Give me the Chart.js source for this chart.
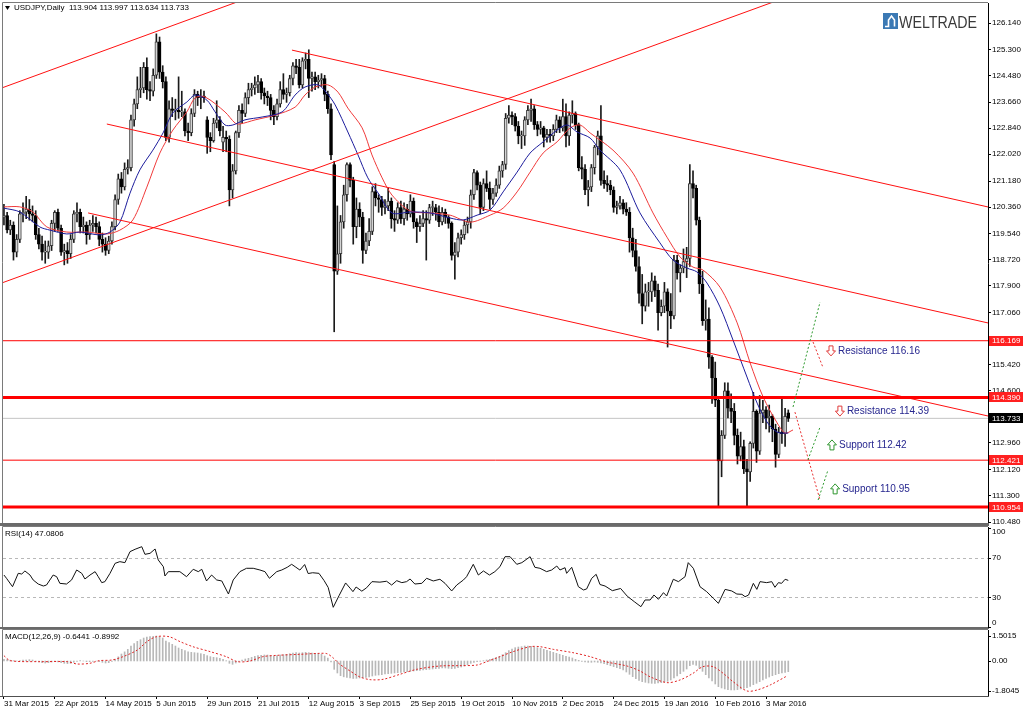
<!DOCTYPE html>
<html>
<head>
<meta charset="utf-8">
<title>USDJPY, Daily</title>
<script src="https://cdn.jsdelivr.net/npm/chart.js@4.4.1/dist/chart.umd.min.js"></script>
<style>
    html, body { margin: 0; padding: 0; background: #fff; }
    #wrap { position: relative; width: 1023px; height: 713px; overflow: hidden; }
    canvas { position: absolute; left: 0; }
    #c-main { top: 0; }
    #c-rsi { top: 526px; }
    #c-macd { top: 629px; }
</style>
</head>
<body>
<div id="wrap">
    <canvas id="c-main" width="1023" height="527"></canvas>
    <canvas id="c-rsi" width="1023" height="103"></canvas>
    <canvas id="c-macd" width="1023" height="84"></canvas>
</div>
<script>
const FONT = "'Liberation Sans', Arial, Helvetica, sans-serif";

// x axis: bar index, one daily bar per step
const dateLabels = ['31 Mar 2015', '22 Apr 2015', '14 May 2015', '5 Jun 2015', '29 Jun 2015', '21 Jul 2015',
    '12 Aug 2015', '3 Sep 2015', '25 Sep 2015', '19 Oct 2015', '10 Nov 2015', '2 Dec 2015',
    '24 Dec 2015', '19 Jan 2016', '10 Feb 2016', '3 Mar 2016'];
const dateIdx = [0, 16, 32, 48, 64, 80, 96, 112, 128, 144, 160, 176, 192, 208, 224, 240];

const priceTicks = [126.140, 125.300, 124.480, 123.660, 122.840, 122.020, 121.180, 120.360, 119.540, 118.720,
    117.900, 117.060, 116.240, 115.420, 114.600, 113.780, 112.960, 112.120, 111.300, 110.480];

// daily OHLC
const opens = [
    120.05,120.10,119.65,119.80,118.95,119.35,120.15,120.20,120.30,120.15,
    120.10,119.50,119.20,118.95,118.95,119.15,119.85,120.20,119.70,118.95,
    119.00,118.90,119.35,120.15,120.20,119.75,119.80,119.50,119.80,119.85,
    119.75,119.35,119.20,119.00,119.30,119.75,120.60,121.25,121.00,121.55,
    121.60,123.10,123.60,124.05,124.10,124.75,124.05,124.00,124.50,125.55,
    124.60,124.30,122.55,123.45,123.40,123.40,123.35,123.35,122.75,122.70,
    123.30,123.90,123.80,123.85,123.10,122.55,122.45,123.00,123.10,122.40,
    122.55,122.50,120.90,121.50,122.70,123.40,123.30,123.80,124.05,124.10,
    124.20,124.30,123.95,123.85,123.80,123.40,123.20,123.60,124.05,123.90,
    123.95,124.40,124.80,124.75,124.20,124.95,125.00,124.40,124.45,124.30,
    124.35,124.40,123.90,123.45,121.70,118.35,118.90,119.90,120.75,121.70,
    121.20,119.75,120.30,120.05,119.00,119.30,119.60,120.85,120.65,120.60,
    120.35,120.40,120.55,120.00,119.95,120.35,120.00,120.30,120.15,120.55,
    119.90,119.75,119.85,120.00,119.95,120.35,120.35,120.20,119.90,120.20,
    120.05,119.85,118.85,118.95,119.40,119.50,119.80,119.90,120.75,121.45,
    121.05,120.35,121.10,120.95,120.60,120.80,121.05,121.50,121.70,123.15,
    123.25,123.20,122.90,122.60,122.60,123.10,123.40,123.45,122.95,122.80,
    122.85,122.55,122.65,122.60,122.80,123.10,122.85,123.20,122.60,123.25,
    123.30,122.95,121.60,121.55,120.90,121.00,121.60,122.25,122.60,121.20,
    121.10,121.05,120.90,120.35,120.40,120.50,120.30,120.20,119.40,119.00,
    118.50,117.65,117.25,117.70,117.70,118.05,117.75,117.05,117.25,117.70,
    117.10,116.95,118.70,118.30,118.45,118.65,118.75,121.10,120.95,119.95,
    117.95,116.80,116.85,115.65,115.00,114.30,112.40,113.20,114.60,114.05,
    113.95,113.20,112.55,112.85,112.15,112.05,112.95,113.95,112.70,113.90,
    114.00,113.75,113.80,113.40,112.60,113.30,113.25,113.904
];
const highs = [
    120.45,120.20,119.95,119.90,119.50,120.25,120.50,120.70,120.60,120.40,
    120.25,119.70,119.45,119.30,119.30,119.95,120.25,120.30,119.80,119.20,
    119.25,119.50,120.25,120.50,120.30,120.05,119.90,119.95,120.10,120.05,
    119.90,119.55,119.40,119.45,119.90,120.75,121.40,121.45,121.75,121.85,
    123.25,123.75,124.45,124.75,124.90,125.05,124.30,124.70,125.80,125.70,
    124.80,124.45,123.70,123.80,123.75,124.45,124.00,123.45,123.00,123.45,
    124.05,124.00,124.05,124.00,123.20,122.70,123.15,123.70,123.20,122.90,
    122.75,122.60,121.70,122.75,123.55,123.60,123.95,124.25,124.25,124.45,
    124.50,124.40,124.10,124.00,123.90,123.55,123.75,124.30,124.55,124.10,
    124.50,124.90,125.00,125.00,125.05,125.20,125.30,124.60,124.60,124.50,
    124.55,124.50,124.00,123.60,121.80,120.40,120.10,121.05,121.75,121.75,
    121.30,120.65,120.50,120.20,119.55,120.00,121.00,121.10,120.75,120.70,
    120.60,120.95,120.65,120.25,120.50,120.55,120.50,120.45,120.75,120.65,
    120.00,120.10,120.25,120.25,120.45,120.55,120.45,120.40,120.35,120.30,
    120.10,119.90,119.25,119.55,119.65,119.95,120.05,120.90,121.55,121.50,
    121.15,121.25,121.50,121.15,120.95,121.25,121.65,121.80,123.30,123.55,
    123.35,123.30,123.05,122.75,123.20,123.55,123.75,123.55,123.05,123.05,
    122.90,122.80,122.80,122.95,123.25,123.20,123.75,123.60,123.35,123.70,
    123.35,123.00,121.95,121.70,121.20,121.70,122.30,122.75,123.55,121.50,
    121.35,121.20,121.00,120.55,120.70,120.60,120.50,120.35,119.70,119.35,
    118.80,118.25,117.95,118.00,118.30,118.20,117.95,117.45,118.00,117.80,
    117.65,118.85,118.85,118.55,119.05,119.10,121.70,121.50,121.05,120.05,
    118.35,117.45,117.20,115.70,115.50,114.35,113.35,114.85,114.85,114.50,
    114.20,113.40,113.30,113.05,112.45,113.00,114.55,114.00,114.45,114.30,
    114.10,114.15,113.85,113.55,113.45,114.40,114.05,113.997
];
const lows = [
    119.80,119.55,119.50,118.70,118.80,119.25,119.90,120.00,119.95,119.90,
    119.35,119.05,118.70,118.60,118.75,119.00,119.60,119.60,118.85,118.55,
    118.60,118.75,119.25,119.90,119.55,119.55,119.20,119.35,119.60,119.55,
    119.15,118.95,118.85,118.90,119.20,119.65,120.45,120.80,120.90,121.40,
    121.50,122.90,123.45,123.80,123.95,123.75,123.70,123.85,124.40,124.40,
    124.10,122.45,122.40,123.20,123.10,123.15,123.20,122.60,122.45,122.60,
    123.20,123.55,123.45,123.65,122.05,122.10,122.40,122.85,122.60,122.10,
    122.10,120.40,120.65,121.40,122.55,123.00,123.20,123.60,123.85,123.90,
    123.95,123.75,123.60,123.55,123.10,122.95,123.10,123.50,123.75,123.65,
    123.85,124.20,124.55,124.10,124.10,124.70,123.80,124.00,124.05,124.10,
    124.15,123.70,123.30,121.85,116.45,118.25,118.60,119.70,120.55,121.00,
    119.20,119.40,119.75,118.60,118.90,119.15,119.50,120.40,120.20,120.10,
    120.15,120.25,119.70,119.60,119.85,119.85,119.80,119.95,120.05,119.70,
    119.25,119.60,119.75,118.70,119.85,120.10,119.95,119.75,119.80,119.85,
    119.70,118.70,118.10,118.80,119.20,119.35,119.55,119.70,120.60,120.90,
    120.15,120.25,120.85,120.30,120.45,120.70,120.95,121.30,121.55,123.00,
    122.95,122.75,122.35,122.20,122.30,122.95,123.05,122.80,122.60,122.65,
    122.25,122.40,122.40,122.45,122.70,122.70,122.75,122.25,122.30,123.00,
    122.80,121.50,121.25,120.75,120.40,120.85,121.40,122.00,121.05,120.95,
    120.85,120.75,120.20,120.15,120.30,120.15,120.10,118.95,118.80,118.35,
    117.35,116.70,117.10,117.25,117.40,117.55,116.50,116.95,117.05,115.97,
    116.55,116.85,118.10,117.70,118.30,118.15,118.50,120.65,119.80,117.65,
    116.65,116.50,115.30,114.20,114.10,110.98,111.90,113.10,113.75,113.60,
    112.90,112.30,112.40,112.00,110.99,111.75,112.80,112.35,112.60,113.60,
    113.40,113.30,113.00,112.20,112.50,112.95,112.85,113.634
];
const closes = [
    120.10,119.65,119.80,118.95,119.35,120.15,120.20,120.30,120.15,120.10,
    119.50,119.20,118.95,118.95,119.15,119.85,120.20,119.70,118.95,119.00,
    118.90,119.35,120.15,120.20,119.75,119.80,119.50,119.80,119.85,119.75,
    119.35,119.20,119.00,119.30,119.75,120.60,121.25,121.00,121.55,121.60,
    123.10,123.60,124.05,124.10,124.75,124.05,124.00,124.50,125.55,124.60,
    124.30,122.55,123.45,123.40,123.40,123.35,123.35,122.75,122.70,123.30,
    123.90,123.80,123.85,123.80,122.55,122.45,123.00,123.10,122.75,122.55,
    122.50,120.90,121.50,122.70,123.40,123.30,123.80,124.05,124.10,124.20,
    124.30,123.95,123.85,123.80,123.40,123.20,123.60,124.05,123.90,123.95,
    124.40,124.80,124.75,124.20,124.95,125.00,124.40,124.45,124.30,124.35,
    124.40,123.90,123.45,122.00,118.35,118.90,119.90,120.75,121.70,121.20,
    119.75,120.30,120.05,119.00,119.30,119.60,120.85,120.65,120.60,120.35,
    120.40,120.55,120.00,119.95,120.35,120.00,120.30,120.15,120.55,119.90,
    119.75,119.85,120.00,119.95,120.35,120.35,120.20,119.90,120.20,120.05,
    119.85,118.85,118.95,119.40,119.50,119.80,119.90,120.75,121.45,121.05,
    120.35,121.10,120.95,120.60,120.80,121.05,121.50,121.70,123.15,123.25,
    123.20,122.90,122.60,122.60,123.10,123.40,123.45,122.95,122.80,122.85,
    122.55,122.65,122.60,122.80,123.10,122.85,123.20,122.60,123.25,123.30,
    122.95,121.60,121.55,120.90,121.00,121.60,122.25,122.60,121.20,121.10,
    121.05,120.90,120.35,120.40,120.50,120.30,120.20,119.40,119.00,118.50,
    117.65,117.25,117.70,117.70,118.05,117.75,117.05,117.25,117.70,117.10,
    116.95,118.70,118.30,118.45,118.65,118.75,121.10,120.95,119.95,117.95,
    116.80,116.85,115.65,115.00,114.30,112.40,113.20,114.60,114.05,113.95,
    113.20,112.55,112.85,112.15,112.05,112.95,113.95,112.70,113.90,114.00,
    113.75,113.80,113.40,112.60,113.30,113.25,113.80,113.733
];

// moving averages (bar index, price)
const maFastIdx = [0, 5, 11.3, 14.5, 19.8, 23.9, 30.2, 33.4, 36.5, 39.7, 42.8, 46.9, 50.1, 53.2, 57.6, 60.2, 63.9,
    66.5, 69.6, 72.1, 75.9, 81.3, 87.6, 91.7, 94.8, 98.9, 101.7, 104.3, 108.3, 111.5, 114.6, 117.8, 122.2, 127.9,
    134.2, 140.5, 144.6, 149, 153.1, 157.2, 161.6, 165.7, 169.8, 174.2, 177.3, 180.5, 184.6, 187.7, 194, 200.3,
    206.6, 210.7, 215.1, 218.2, 221.4, 225.5, 229.6, 234, 237.2, 240.3, 243.5, 247];
const maFast = [120.33, 120.21, 119.74, 119.64, 119.52, 119.58, 119.49, 119.58, 119.89, 120.80, 121.53, 122.15, 122.69,
    123.32, 123.66, 123.88, 123.72, 123.35, 122.94, 122.94, 123.10, 123.19, 123.35, 123.88, 124.13, 124.20, 123.94,
    123.57, 122.72, 122.00, 121.28, 120.81, 120.18, 120.21, 120.18, 120.02, 119.96, 120.11, 120.27, 120.84, 121.46,
    122.06, 122.41, 122.78, 122.94, 122.72, 122.53, 122.15, 121.53, 120.18, 119.24, 118.70, 118.45, 118.33, 117.98,
    117.23, 116.19, 115.03, 114.21, 113.62, 113.30, 113.27];
const maSlowIdx = [0, 5, 9.1, 13.5, 19.8, 26.1, 32.4, 36.5, 40.6, 45, 49.1, 53.2, 57.6, 60.2, 63.3, 69.6, 72.8, 74.3,
    79.1, 85.4, 91.7, 94.8, 98, 102, 105.2, 108.3, 112.8, 115.9, 119.1, 122.2, 127.9, 134.2, 140.5, 146.8, 153.1,
    157.2, 161.6, 165.7, 169.8, 174.2, 178.3, 181.4, 184.6, 191.8, 198.1, 204.4, 208.8, 212.9, 217, 220.1, 225.5,
    230.9, 235, 239.1, 243.5, 246, 248.5];
const maSlow = [120.37, 120.37, 120.21, 119.74, 119.58, 119.58, 119.52, 119.64, 119.96, 120.99, 122.06, 122.78, 123.35,
    123.79, 123.82, 123.35, 123.00, 122.97, 123.10, 123.25, 123.50, 123.88, 124.13, 124.20, 123.97, 123.47, 122.85,
    122.00, 121.28, 120.74, 120.24, 120.18, 120.11, 119.89, 120.11, 120.33, 120.84, 121.46, 122.06, 122.41, 122.85,
    122.94, 122.69, 122.15, 121.43, 120.18, 119.42, 118.80, 118.48, 118.39, 117.85, 116.73, 115.47, 114.40, 113.59,
    113.27, 113.37];

// drawn objects: channel lines [idx1, price1, idx2, price2], levels, projections
const trendLines = [
    [-1, 124.09, 80, 127.04],
    [-1, 117.97, 250, 127.08],
    [90.7, 125.29, 320, 120.14],
    [32.4, 122.97, 320, 116.50],
    [26.5, 120.18, 320, 113.58]
];
const levelThick = [114.390, 110.954];
const levelThin = [116.169, 112.421];
const lastPrice = 113.733;
const projUp = [[248.5, 114.09, 257, 117.38], [253.2, 112.43, 257, 113.46], [256.4, 111.17, 259.5, 112.11]];
const projDown = [[254.8, 116.13, 258, 115.31], [249.1, 113.93, 257, 111.17]];
const noteText = ['Resistance 116.16', 'Resistance 114.39', 'Support 112.42', 'Support 110.95'];
const noteIdx = [259.2, 262.0, 259.5, 260.5];
const notePrice = [115.85, 113.96, 112.90, 111.52];
const noteDir = ['down', 'down', 'up', 'up'];

// RSI(14)
const rsiIdx = [0, 0.8, 2.7, 4.5, 5.6, 6.6, 8.2, 9.2, 10.8, 12.4, 13.4, 15.5, 16.6, 17.6, 19.7, 21.3, 22.9, 24.5, 25.5,
    27.1, 28.7, 29.7, 30.8, 31.8, 33.4, 35, 36.5, 38.1, 39.7, 41.3, 43.4, 44.4, 46, 47.6, 48.6, 50.2, 50.7, 51.8,
    55.4, 57.5, 59.6, 61.2, 62.3, 63.8, 65.4, 67, 68.6, 70.7, 72.2, 74.3, 76.4, 78.5, 80.6, 82.2, 83.6, 85.9, 87.5,
    89.2, 90.6, 91.7, 93.2, 94.7, 95.8, 97.2, 99.2, 100.8, 102.1, 103.7, 105.5, 107.6, 109.2, 109.9, 110.9, 112.7,
    114.2, 115.9, 118.4, 120.5, 122.1, 123.7, 125.3, 126.8, 127.9, 129.4, 131.6, 133.1, 135.2, 137.3, 138.9, 141,
    142.6, 144.7, 145.7, 147.8, 149.4, 151, 152.9, 154.6, 156.2, 157.8, 159.4, 161.5, 163.1, 165.7, 167.2, 168.8,
    170.9, 172.5, 174.1, 175.1, 176.7, 177.2, 178.8, 180.9, 182.5, 183.5, 185.1, 186.5, 187.7, 189.3, 191.6, 194.2,
    196.3, 198.5, 200.6, 201.9, 203.5, 204.7, 206.1, 207.7, 208.7, 210.8, 212.4, 214.5, 215.5, 217.1, 219.2, 221.3,
    223.4, 225, 227.1, 229.2, 230.8, 232.4, 233.4, 234.5, 236, 237.1, 238.1, 240.2, 241.8, 242.8, 243.9, 244.9,
    246, 247];
const rsiVal = [52.5, 49.2, 40.7, 54.2, 53.5, 56.6, 52.5, 47.5, 43.4, 41.4, 42.4, 52.5, 50.8, 44.1, 43.4, 47.5, 57.6,
    54.2, 48.5, 52.5, 55.9, 50.8, 44.8, 45.8, 54.2, 64.3, 66.0, 65.0, 76.1, 78.5, 81.1, 73.4, 74.4, 78.8, 67.7, 60.9,
    51.5, 55.9, 55.9, 50.8, 58.3, 55.9, 58.3, 46.5, 52.5, 47.5, 46.5, 33.3, 47.5, 55.9, 59.3, 59.3, 57.6, 55.9, 49.2,
    55.9, 57.6, 60.3, 63.3, 60.9, 57.5, 63.1, 54.0, 54.8, 54.2, 47.0, 40.0, 19.9, 31.5, 44.5, 38.5, 35.7, 40.4, 36.2,
    39.6, 45.8, 45.3, 46.2, 42.4, 46.8, 44.8, 45.8, 48.5, 43.4, 44.1, 49.2, 46.5, 48.2, 44.1, 36.4, 42.4, 47.5, 50.8,
    63.3, 52.5, 56.6, 52.5, 55.9, 60.9, 71.0, 71.0, 63.3, 65.0, 71.0, 60.3, 59.3, 55.9, 57.6, 61.6, 57.6, 59.9, 54.2,
    60.3, 40.7, 37.4, 38.4, 49.2, 53.2, 42.9, 41.4, 36.7, 38.9, 31.1, 25.6, 20.5, 27.3, 27.3, 32.3, 28.0, 34.7, 31.3,
    48.2, 45.8, 50.8, 65.0, 59.3, 40.7, 35.7, 29.0, 23.9, 38.0, 36.4, 33.3, 33.0, 30.6, 32.3, 44.1, 38.0, 45.8, 44.8,
    45.8, 40.1, 44.8, 44.1, 48.2, 47.08];
const rsiLevels = [70, 30];
const rsiTicks = [100, 70, 30, 0];

// MACD(12,26,9): main line as histogram, signal as dotted line
const macdHist = [
    0.10,0.08,0.05,0.02,0.00,0.02,0.05,0.06,0.08,0.06,
    -0.02,-0.06,-0.10,-0.12,-0.10,-0.06,-0.04,-0.06,-0.10,-0.14,
    -0.16,-0.14,-0.08,-0.02,0.02,0.00,-0.04,-0.04,-0.02,0.00,
    -0.04,-0.08,-0.12,-0.10,-0.02,0.10,0.25,0.42,0.55,0.70,
    0.90,1.05,1.18,1.28,1.38,1.44,1.46,1.48,1.50,1.45,
    1.38,1.20,1.10,1.00,0.90,0.78,0.70,0.62,0.55,0.52,
    0.50,0.48,0.44,0.40,0.32,0.26,0.22,0.20,0.16,0.10,
    0.02,-0.14,-0.20,-0.12,-0.02,0.06,0.12,0.16,0.22,0.28,
    0.32,0.34,0.36,0.36,0.32,0.30,0.32,0.36,0.38,0.40,
    0.44,0.48,0.50,0.48,0.50,0.52,0.50,0.48,0.46,0.45,
    0.40,0.30,0.18,-0.05,-0.50,-0.72,-0.88,-0.95,-0.98,-1.02,
    -1.05,-1.04,-1.02,-1.00,-0.98,-0.95,-0.90,-0.86,-0.84,-0.82,
    -0.78,-0.76,-0.74,-0.72,-0.70,-0.68,-0.66,-0.64,-0.62,-0.60,
    -0.58,-0.56,-0.54,-0.52,-0.50,-0.48,-0.46,-0.44,-0.42,-0.42,
    -0.44,-0.46,-0.44,-0.40,-0.36,-0.30,-0.22,-0.14,-0.08,-0.04,
    -0.02,0.02,0.06,0.10,0.14,0.20,0.28,0.38,0.50,0.62,
    0.72,0.80,0.84,0.86,0.90,0.90,0.88,0.84,0.80,0.76,
    0.70,0.64,0.58,0.52,0.46,0.40,0.34,0.28,0.24,0.18,
    0.10,0.04,-0.02,-0.06,-0.08,-0.08,-0.06,-0.08,-0.12,-0.16,
    -0.22,-0.28,-0.34,-0.40,-0.46,-0.54,-0.66,-0.80,-0.94,-1.06,
    -1.16,-1.24,-1.28,-1.32,-1.34,-1.34,-1.32,-1.30,-1.26,-1.22,
    -1.14,-1.02,-0.90,-0.76,-0.62,-0.48,-0.28,-0.20,-0.26,-0.44,
    -0.62,-0.82,-1.02,-1.20,-1.38,-1.54,-1.62,-1.68,-1.72,-1.74,
    -1.74,-1.72,-1.68,-1.64,-1.60,-1.52,-1.42,-1.34,-1.24,-1.14,
    -1.04,-0.96,-0.88,-0.82,-0.76,-0.72,-0.68,-0.64
];
const signalIdx = [0, 2, 11, 20, 23, 27, 30, 34, 37.5, 42, 45, 48, 52, 55.5, 59.5, 65, 70, 73.5, 77.5, 81.5, 86, 93,
    99.5, 101.7, 103.6, 105.8, 109, 112, 115.3, 119.4, 124.7, 130, 137.3, 143.6, 149, 152, 156.2, 160.3, 165.7,
    168.8, 173, 179.2, 184.6, 189.9, 196.2, 200.3, 203.5, 208.8, 212.9, 217, 220.1, 223.3, 226.5, 229.6, 234, 237.2,
    241.3, 246.6];
const signalVal = [0.32, 0.02, -0.04, -0.04, -0.18, -0.14, 0.02, 0.06, 0.26, 0.66, 1.16, 1.46, 1.46, 1.16, 0.86, 0.56,
    0.26, -0.04, 0.00, 0.26, 0.34, 0.40, 0.46, 0.44, 0.20, -0.20, -0.60, -0.95, -1.12, -1.10, -0.80, -0.50, -0.30,
    -0.28, -0.24, -0.04, 0.26, 0.56, 0.86, 0.86, 0.70, 0.50, 0.26, -0.06, -0.30, -0.60, -0.95, -1.30, -1.14, -0.74,
    -0.34, -0.34, -0.74, -1.24, -1.80, -1.74, -1.44, -0.90];
const macdTicks = [1.5015, 0, -1.8045];
const macdTickText = ['1.5015', '0.00', '-1.8045'];

const X_MIN = -0.3;
const X_MAX = 309.9;

Chart.defaults.font.family = FONT;

function xAxis(show) {
    return {
        type: 'linear',
        display: show,
        min: X_MIN,
        max: X_MAX,
        offset: false,
        afterBuildTicks: s => { s.ticks = dateIdx.map(v => ({ value: v })); },
        afterFit: s => {
            // only the bottom pane shows the date row
            s.height = show ? 17 : 0;
            s.paddingLeft = 0;
            s.paddingRight = 0;
        },
        ticks: {
            align: 'start', maxRotation: 0, autoSkip: false, padding: 0, color: '#000',
            font: { family: FONT, size: 8 },
            callback: v => dateLabels[dateIdx.indexOf(v)]
        },
        grid: { display: true, offset: false, drawOnChartArea: false, drawTicks: true, tickLength: 3, color: '#000' },
        border: { display: false }
    };
}

function sideAxis(min, max, showTicks) {
    return {
        position: 'right',
        min: min,
        max: max,
        afterBuildTicks: s => { if (showTicks) s.ticks = priceTicks.map(v => ({ value: v })); },
        afterFit: s => { s.width = 35; s.paddingTop = 0; s.paddingBottom = 0; },
        ticks: {
            display: showTicks, autoSkip: false, padding: 1, color: '#000',
            font: { family: FONT, size: 8 },
            callback: v => v.toFixed(3)
        },
        grid: { display: showTicks, drawOnChartArea: false, drawTicks: true, tickLength: 3, color: '#000' },
        border: { display: true, color: '#000', width: 1 }
    };
}

function segment(l, color, width, dash, order) {
    return {
        type: 'line',
        data: [{ x: l[0], y: l[1] }, { x: l[2], y: l[3] }],
        borderColor: color, borderWidth: width, borderDash: dash || [],
        pointRadius: 0, fill: false, order: order
    };
}

function drawFrame(chart, sepHeight, sepColor) {
    const { ctx, chartArea: a } = chart;
    ctx.save();
    ctx.strokeStyle = '#7a7a7a';
    ctx.lineWidth = 1;
    ctx.beginPath();
    ctx.moveTo(a.left - 0.5, a.bottom);
    ctx.lineTo(a.left - 0.5, a.top - 0.5);
    ctx.lineTo(a.right, a.top - 0.5);
    ctx.stroke();
    ctx.fillStyle = sepColor;
    ctx.fillRect(0, a.bottom, a.right + 1, sepHeight);
    ctx.restore();
}

function drawHeader(chart, text, x, y) {
    const ctx = chart.ctx;
    ctx.save();
    ctx.font = '8px ' + FONT;
    ctx.fillStyle = '#000';
    ctx.textBaseline = 'middle';
    ctx.textAlign = 'left';
    ctx.fillText(text, x, y);
    ctx.restore();
}

function drawSideLabels(chart, values, texts) {
    const { ctx, chartArea: a } = chart;
    const ys = chart.scales.y;
    ctx.save();
    ctx.font = '8px ' + FONT;
    ctx.fillStyle = '#000';
    ctx.textBaseline = 'middle';
    ctx.textAlign = 'left';
    values.forEach((v, k) => {
        const py = ys.getPixelForValue(v);
        ctx.fillRect(a.right, Math.round(py), 3, 1);
        const ty = Math.min(Math.max(py, a.top + 5), a.bottom - 4);
        ctx.fillText(texts[k], a.right + 4, ty);
    });
    ctx.restore();
}

function drawArrow(ctx, cx, cy, dir) {
    const s = dir === 'down' ? 1 : -1;
    ctx.beginPath();
    ctx.moveTo(cx - 2, cy - 5 * s);
    ctx.lineTo(cx + 2, cy - 5 * s);
    ctx.lineTo(cx + 2, cy);
    ctx.lineTo(cx + 4.5, cy);
    ctx.lineTo(cx, cy + 5 * s);
    ctx.lineTo(cx - 4.5, cy);
    ctx.lineTo(cx - 2, cy);
    ctx.closePath();
    ctx.fillStyle = '#fff';
    ctx.fill();
    ctx.strokeStyle = dir === 'down' ? '#e03a3a' : '#2e962e';
    ctx.lineWidth = 1;
    ctx.stroke();
}

function priceBox(ctx, x, py, text, bg) {
    ctx.fillStyle = bg;
    ctx.fillRect(x, Math.round(py) - 5, 35, 10);
    ctx.fillStyle = '#fff';
    ctx.font = '8px ' + FONT;
    ctx.textBaseline = 'middle';
    ctx.textAlign = 'left';
    ctx.fillText(text, x + 3, py + 0.5);
}

const mainDecor = {
    id: 'mainDecor',
    afterDatasetsDraw(chart) {
        const ctx = chart.ctx;
        const xs = chart.scales.x, ys = chart.scales.y;
        ctx.save();
        noteText.forEach((t, k) => {
            const px = xs.getPixelForValue(noteIdx[k]);
            const py = ys.getPixelForValue(notePrice[k]);
            drawArrow(ctx, px + 4, py, noteDir[k]);
            ctx.fillStyle = '#27278f';
            ctx.font = '10px ' + FONT;
            ctx.textBaseline = 'middle';
            ctx.textAlign = 'left';
            ctx.fillText(t, px + 11, py + 0.5);
        });
        ctx.restore();
    },
    afterDraw(chart) {
        const { ctx, chartArea: a } = chart;
        const ys = chart.scales.y;
        drawFrame(chart, 3, '#6a6a6a');

        // header
        ctx.save();
        ctx.fillStyle = '#000';
        ctx.beginPath();
        ctx.moveTo(5, 6); ctx.lineTo(10, 6); ctx.lineTo(7.5, 10); ctx.closePath();
        ctx.fill();
        ctx.restore();
        drawHeader(chart, 'USDJPY,Daily  113.904 113.997 113.634 113.733', 14, 8);

        // price markers on the axis
        ctx.save();
        levelThin.concat(levelThick).forEach(v => {
            priceBox(ctx, a.right + 1, ys.getPixelForValue(v), v.toFixed(3), '#ff2020');
        });
        priceBox(ctx, a.right + 1, ys.getPixelForValue(lastPrice), lastPrice.toFixed(3), '#000');
        ctx.restore();

        // logo
        ctx.save();
        ctx.fillStyle = '#3b79b4';
        ctx.fillRect(883, 13, 15, 16);
        ctx.strokeStyle = '#fff';
        ctx.lineWidth = 1.6;
        ctx.beginPath();
        ctx.moveTo(885, 26.5);
        ctx.lineTo(888.5, 26.5);
        ctx.lineTo(888.5, 20);
        ctx.lineTo(891.5, 16);
        ctx.lineTo(894.5, 20);
        ctx.lineTo(894.5, 26.5);
        ctx.stroke();
        ctx.fillStyle = '#3a3a3a';
        ctx.font = '17px ' + FONT;
        ctx.textBaseline = 'alphabetic';
        ctx.textAlign = 'left';
        ctx.fillText('WELTRADE', 899, 27.5, 78);
        ctx.restore();
    }
};

const rsiDecor = {
    id: 'rsiDecor',
    beforeDatasetsDraw(chart) {
        const { ctx, chartArea: a } = chart;
        const ys = chart.scales.y;
        ctx.save();
        ctx.strokeStyle = '#b8b8b8';
        ctx.lineWidth = 1;
        ctx.setLineDash([3, 3]);
        rsiLevels.forEach(v => {
            const py = Math.round(ys.getPixelForValue(v)) + 0.5;
            ctx.beginPath();
            ctx.moveTo(a.left, py);
            ctx.lineTo(a.right, py);
            ctx.stroke();
        });
        ctx.restore();
    },
    afterDraw(chart) {
        drawFrame(chart, 2, '#6a6a6a');
        drawSideLabels(chart, rsiTicks, rsiTicks.map(String));
        drawHeader(chart, 'RSI(14) 47.0806', 5, 8);
    }
};

const macdDecor = {
    id: 'macdDecor',
    afterDraw(chart) {
        drawFrame(chart, 1, '#505050');
        drawSideLabels(chart, macdTicks, macdTickText);
        drawHeader(chart, 'MACD(12,26,9) -0.6441 -0.8992', 5, 8);
    }
};

const baseOptions = {
    responsive: false,
    animation: false,
    events: [],
    plugins: { legend: { display: false }, tooltip: { enabled: false } }
};

// ---------- price pane ----------
const bars = closes.map((c, i) => i);
const mainDatasets = [];
projUp.forEach(l => mainDatasets.push(segment(l, '#2f9a2f', 1, [2, 2], 1)));
projDown.forEach(l => mainDatasets.push(segment(l, '#e83030', 1, [2, 2], 1)));
levelThick.forEach(v => mainDatasets.push(segment([X_MIN, v, X_MAX, v], '#ff0000', 3, null, 2)));
levelThin.forEach(v => mainDatasets.push(segment([X_MIN, v, X_MAX, v], '#ff0000', 1, null, 2)));
trendLines.forEach(l => mainDatasets.push(segment(l, '#ff1010', 1, null, 3)));
mainDatasets.push({
    type: 'line',
    data: maFastIdx.map((x, k) => ({ x: x, y: maFast[k] })),
    borderColor: '#1c1c9c', borderWidth: 1, pointRadius: 0, tension: 0.3, order: 4
});
mainDatasets.push({
    type: 'line',
    data: maSlowIdx.map((x, k) => ({ x: x, y: maSlow[k] })),
    borderColor: '#f03a3a', borderWidth: 1, pointRadius: 0, tension: 0.3, order: 4
});
mainDatasets.push({
    type: 'bar',
    data: bars.map(i => ({ x: i, y: [opens[i], closes[i]] })),
    backgroundColor: bars.map(i => closes[i] >= opens[i] ? '#d4d4d4' : '#000000'),
    borderColor: bars.map(i => closes[i] >= opens[i] ? '#3c3c3c' : '#000000'),
    borderWidth: 1,
    borderSkipped: false,
    barThickness: 3,
    minBarLength: 1,
    grouped: false,
    order: 5
});
mainDatasets.push({
    type: 'bar',
    data: bars.map(i => ({ x: i, y: [lows[i], highs[i]] })),
    backgroundColor: '#1a1a1a',
    barThickness: 1,
    grouped: false,
    order: 6
});
mainDatasets.push(segment([X_MIN, lastPrice, X_MAX, lastPrice], '#c4c4c4', 1, null, 7));

new Chart(document.getElementById('c-main'), {
    type: 'bar',
    data: { datasets: mainDatasets },
    options: Object.assign({}, baseOptions, {
        layout: { padding: { left: 3, top: 3, right: 0, bottom: 4 } },
        scales: { x: xAxis(false), y: sideAxis(110.449, 126.768, true) }
    }),
    plugins: [mainDecor]
});

// ---------- RSI pane ----------
new Chart(document.getElementById('c-rsi'), {
    type: 'line',
    data: {
        datasets: [{
            data: rsiIdx.map((x, k) => ({ x: x, y: rsiVal[k] })),
            borderColor: '#111', borderWidth: 1, pointRadius: 0, tension: 0
        }]
    },
    options: Object.assign({}, baseOptions, {
        layout: { padding: { left: 3, top: 1, right: 0, bottom: 2 } },
        scales: { x: xAxis(false), y: sideAxis(0, 101, false) }
    }),
    plugins: [rsiDecor]
});

// ---------- MACD pane ----------
new Chart(document.getElementById('c-macd'), {
    type: 'bar',
    data: {
        datasets: [{
            type: 'line',
            data: signalIdx.map((x, k) => ({ x: x, y: signalVal[k] })),
            borderColor: '#e02424', borderWidth: 1, borderDash: [2, 2],
            pointRadius: 0, tension: 0.3, order: 1
        }, {
            type: 'bar',
            data: macdHist.map((v, i) => ({ x: i, y: v })),
            backgroundColor: '#b8b8b8',
            barThickness: 1,
            grouped: false,
            order: 2
        }]
    },
    options: Object.assign({}, baseOptions, {
        layout: { padding: { left: 3, top: 1, right: 0, bottom: 0 } },
        scales: { x: xAxis(true), y: sideAxis(-2.102, 1.862, false) }
    }),
    plugins: [macdDecor]
});
</script>
</body>
</html>
